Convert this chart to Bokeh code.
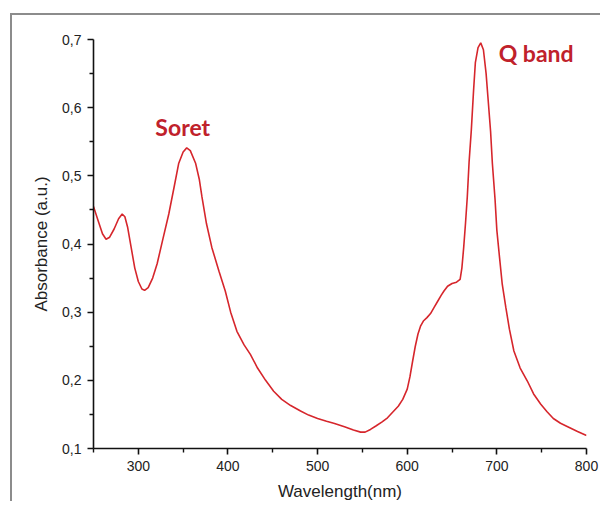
from bokeh.plotting import figure
from bokeh.models import FixedTicker, Range1d
from bokeh.core.properties import value
from bokeh.embed import file_html
from bokeh.resources import INLINE

# ---- data ----
wavelength = [250, 255, 260, 264, 268, 273, 278, 282, 285, 288, 292, 296, 300, 304, 307, 311,
              316, 321, 327, 334, 340, 345, 350, 354, 358, 364, 368, 371, 376, 382, 390, 397,
              403, 410, 418, 425, 433, 442, 451, 460, 470, 481, 490, 500, 510, 518, 530, 540,
              548, 553, 559, 565, 572, 578, 585, 590, 595, 600, 603, 606, 609, 612, 615, 618,
              622, 626, 630, 634, 638, 641, 645, 650, 655, 659, 661, 663, 665, 667, 669, 671.5,
              674, 676, 679, 682, 685, 688, 690, 693, 695, 698, 700, 703, 706, 710, 714, 719,
              726, 734, 741, 749, 756, 763, 771, 779, 790, 800]
absorbance = [0.455, 0.435, 0.415, 0.407, 0.410, 0.422, 0.437, 0.444, 0.440, 0.425, 0.395, 0.365,
              0.345, 0.334, 0.332, 0.336, 0.350, 0.371, 0.405, 0.444, 0.484, 0.518, 0.535, 0.541,
              0.537, 0.518, 0.495, 0.469, 0.430, 0.395, 0.360, 0.331, 0.300, 0.272, 0.252, 0.238,
              0.218, 0.200, 0.184, 0.172, 0.163, 0.155, 0.149, 0.144, 0.140, 0.137, 0.132, 0.127,
              0.124, 0.124, 0.128, 0.133, 0.139, 0.145, 0.155, 0.162, 0.172, 0.187, 0.205, 0.228,
              0.250, 0.268, 0.280, 0.287, 0.292, 0.298, 0.307, 0.316, 0.325, 0.331, 0.338, 0.342,
              0.344, 0.348, 0.365, 0.395, 0.430, 0.469, 0.520, 0.567, 0.625, 0.666, 0.688, 0.695,
              0.685, 0.650, 0.616, 0.565, 0.518, 0.465, 0.420, 0.380, 0.341, 0.307, 0.275, 0.243,
              0.218, 0.199, 0.180, 0.165, 0.154, 0.144, 0.137, 0.132, 0.125, 0.119]

x_ticks = [300, 400, 500, 600, 700, 800]
x_minor = [250, 350, 450, 550, 650, 750]
y_ticks = [0.1, 0.2, 0.3, 0.4, 0.5, 0.6, 0.7]
y_minor = [0.15, 0.25, 0.35, 0.45, 0.55, 0.65]
y_tick_labels = ["0,1", "0,2", "0,3", "0,4", "0,5", "0,6", "0,7"]

band_names = ["Soret", "Q band"]
band_x = [319, 702]
band_y = [0.572, 0.68]

# ---- figure ----
p = figure(width=590, height=488, output_backend="svg", toolbar_location=None,
           x_range=Range1d(250, 800), y_range=Range1d(0.1, 0.7),
           min_border_left=81, min_border_right=16, min_border_top=24, min_border_bottom=40,
           styles={"border-left": "2px solid #8c8c8c", "border-top": "2px solid #8c8c8c",
                   "margin-left": "10px", "margin-top": "13px"})
p.outline_line_color = None
p.grid.visible = False
p.background_fill_color = "white"
p.border_fill_color = "white"

p.line(wavelength, absorbance, line_color="#d6262c", line_width=1.6)

p.text(x=band_x, y=band_y, text=band_names, text_font=value("Lato"), text_font_style="bold",
       text_font_size="23px", text_color="#c0212b", text_align="left", text_baseline="alphabetic")

xa = p.xaxis[0]
xa.ticker = FixedTicker(ticks=x_ticks, minor_ticks=x_minor)
ya = p.yaxis[0]
ya.ticker = FixedTicker(ticks=y_ticks, minor_ticks=y_minor)
ya.major_label_overrides = {t: l for t, l in zip(y_ticks, y_tick_labels)}

xa.axis_label = "Wavelength(nm)"
ya.axis_label = "Absorbance (a.u.)"

for ax in (xa, ya):
    ax.axis_line_color = "#111111"
    ax.axis_line_width = 1.6
    ax.major_tick_line_color = "#111111"
    ax.major_tick_line_width = 1.6
    ax.minor_tick_line_color = "#111111"
    ax.minor_tick_line_width = 1.4
    ax.major_tick_out = 6
    ax.major_tick_in = 0
    ax.minor_tick_out = 4
    ax.minor_tick_in = 0
    ax.major_label_text_font = "Liberation Sans"
    ax.major_label_text_font_size = "14px"
    ax.major_label_text_color = "#222222"
    ax.major_label_standoff = 6
    ax.axis_label_text_font = "Liberation Sans"
    ax.axis_label_text_font_size = "17px"
    ax.axis_label_text_font_style = "normal"
    ax.axis_label_text_color = "#222222"

xa.axis_label_standoff = 8
ya.axis_label_standoff = 8

open("out.html", "w").write(file_html(p, INLINE))
